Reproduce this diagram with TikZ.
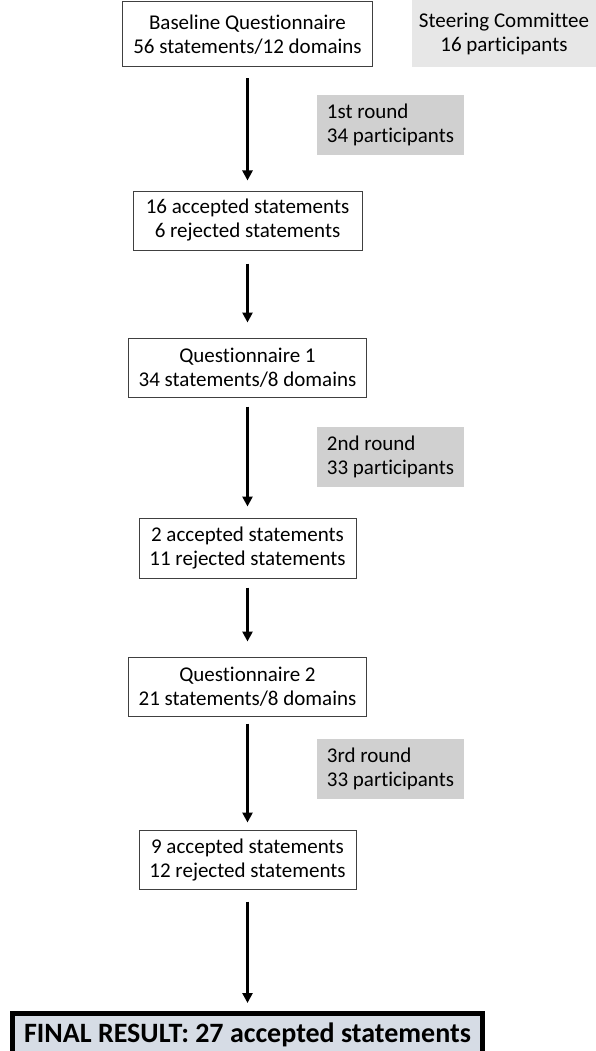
\documentclass[tikz,border=0pt]{standalone}
\usepackage{fontspec}
\setmainfont{Carlito}[Ligatures=NoCommon]
\usetikzlibrary{arrows.meta}
\definecolor{roundgray}{HTML}{D0D0D0}
\definecolor{steergray}{HTML}{E7E7E7}
\definecolor{finalfill}{HTML}{D6DCE5}

\begin{document}
\begin{tikzpicture}[x=1pt,y=-1pt,
    box/.style={draw=black!75, line width=1pt, fill=white, align=center, inner sep=0pt,
        minimum height=59pt, font=\fontsize{21}{24}\selectfont},
    roundbox/.style={fill=roundgray, align=left, minimum width=147pt, inner sep=0pt,
        minimum height=60pt, font=\fontsize{21}{24}\selectfont},
    flow/.style={line width=2.6pt, -{Triangle[length=10pt,width=10pt]}}]
    \clip (0,0) rectangle (596,1051);

    % Baseline questionnaire
    \node[box, minimum width=250pt, minimum height=65pt] (base) at (247.5,34.5) {Baseline Questionnaire\\56 statements/12 domains};
    \node[box, draw=none, fill=steergray, minimum width=184pt, minimum height=67pt] (steer) at (504,33.5) {Steering Committee\\16 participants};

    % 1st round
    \node[roundbox] (r1) at (390.5,125) {1st round\\34 participants};
    \node[box, minimum width=229pt] (acc1) at (247.5,220.5) {16 accepted statements\\6 rejected statements};

    % 2nd round
    \node[box, minimum width=238pt] (q1) at (247.5,367.5) {Questionnaire 1\\34 statements/8 domains};
    \node[roundbox] (r2) at (390.5,457) {2nd round\\33 participants};
    \node[box, minimum width=217pt, minimum height=60pt] (acc2) at (247.5,548) {2 accepted statements\\11 rejected statements};

    % 3rd round
    \node[box, minimum width=238pt] (q2) at (247.5,686.5) {Questionnaire 2\\21 statements/8 domains};
    \node[roundbox] (r3) at (390.5,768.5) {3rd round\\33 participants};
    \node[box, minimum width=217pt] (acc3) at (247.5,859.5) {9 accepted statements\\12 rejected statements};

    % Final result
    \node[draw, line width=5pt, fill=finalfill, minimum width=470pt, minimum height=44pt, anchor=north,
        font=\bfseries\fontsize{28}{30}\selectfont] (final) at (247.5,1010.5) {FINAL RESULT: 27 accepted statements};

    % Arrows
    \foreach \a/\b/\s/\e in {base/acc1/11/10, acc1/q1/13/15, q1/acc2/9/11, acc2/q2/9/15, q2/acc3/7/7, acc3/final/12/7.5}
        \draw[flow, shorten <=\s pt, shorten >=\e pt] (\a) -- (\b);
\end{tikzpicture}
\end{document}
